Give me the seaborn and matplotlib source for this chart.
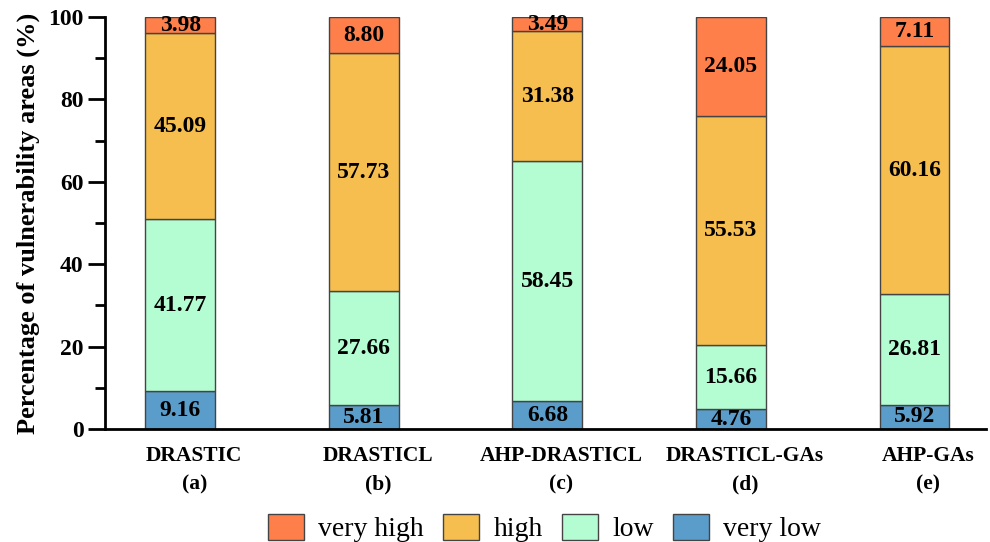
import matplotlib
matplotlib.use("Agg")
import matplotlib.pyplot as plt
import matplotlib.transforms as mtransforms
import seaborn as sns
import pandas as pd
from matplotlib.patches import Patch
from matplotlib.ticker import MultipleLocator

methods = ["DRASTIC", "DRASTICL", "AHP-DRASTICL", "DRASTICL-GAs", "AHP-GAs"]
panels = ["(a)", "(b)", "(c)", "(d)", "(e)"]
classes = ["very high", "high", "low", "very low"]
very_high = [3.98, 8.80, 3.49, 24.05, 7.11]
high = [45.09, 57.73, 31.38, 55.53, 60.16]
low = [41.77, 27.66, 58.45, 15.66, 26.81]
very_low = [9.16, 5.81, 6.68, 4.76, 5.92]
colors = ["#FF7F4B", "#F5BE4F", "#B4FDD3", "#5B9DCA"]

rows = []
for cls, vals in zip(classes, [very_high, high, low, very_low]):
    for i, v in enumerate(vals):
        rows.append({"method": i, "class": cls, "value": v})
df = pd.DataFrame(rows)

sns.set_style("ticks")
plt.rcParams["font.family"] = ["Liberation Serif", "DejaVu Serif"]
plt.rcParams["font.weight"] = "bold"
plt.rcParams["text.color"] = "black"
plt.rcParams["axes.labelcolor"] = "black"
plt.rcParams["xtick.color"] = "black"
plt.rcParams["ytick.color"] = "black"
plt.rcParams["axes.edgecolor"] = "black"

fig = plt.figure(figsize=(9.9, 5.42), dpi=100)
ax = fig.add_axes([0.106, 0.2085, 0.89, 0.76])

sns.histplot(data=df, x="method", weights="value", hue="class",
             hue_order=classes, palette=colors, multiple="stack",
             discrete=True, shrink=0.38, alpha=1, edgecolor="#444444",
             linewidth=1.0, legend=False, ax=ax)

for cont in ax.containers:
    ax.bar_label(cont, labels=[f"{b.get_height():.2f}" for b in cont],
                 label_type="center", fontsize=17, fontweight="bold",
                 color="black")

ax.set_xlim(-0.41, 4.39)
ax.set_ylim(0, 100)
ax.set_xticks(range(len(methods)))
ax.set_xticklabels([f"{m}\n{p}" for m, p in zip(methods, panels)],
                   fontsize=15.5, fontweight="bold", linespacing=1.6)
ax.tick_params(axis="x", length=0, pad=12)
# labels in the original sit a little right of the bars
shift = mtransforms.ScaledTranslation(0.14, 0, fig.dpi_scale_trans)
for lab in ax.get_xticklabels():
    lab.set_transform(lab.get_transform() + shift)
ax.yaxis.set_major_locator(MultipleLocator(20))
ax.yaxis.set_minor_locator(MultipleLocator(10))
ax.tick_params(axis="y", which="major", length=12, width=2, labelsize=17)
ax.tick_params(axis="y", which="minor", length=7, width=2)
for lab in ax.get_yticklabels():
    lab.set_fontweight("bold")
ax.set_xlabel("")
ax.set_ylabel("Percentage of vulnerability areas (%)", fontsize=19,
              fontweight="bold", labelpad=6)
for side in ["top", "right"]:
    ax.spines[side].set_visible(False)
ax.spines["left"].set_linewidth(2)
ax.spines["bottom"].set_linewidth(2)

handles = [Patch(facecolor=c, edgecolor="#444444", label=l)
           for c, l in zip(colors, classes)]
fig.legend(handles=handles, loc="center", bbox_to_anchor=(0.55, 0.026),
           ncol=4, frameon=False, prop={"family": "Liberation Serif",
                                        "weight": "normal", "size": 20},
           handlelength=1.3, handleheight=1.1, columnspacing=0.7,
           handletextpad=0.5, borderpad=0.1)

fig.savefig("out.png", dpi=100)
